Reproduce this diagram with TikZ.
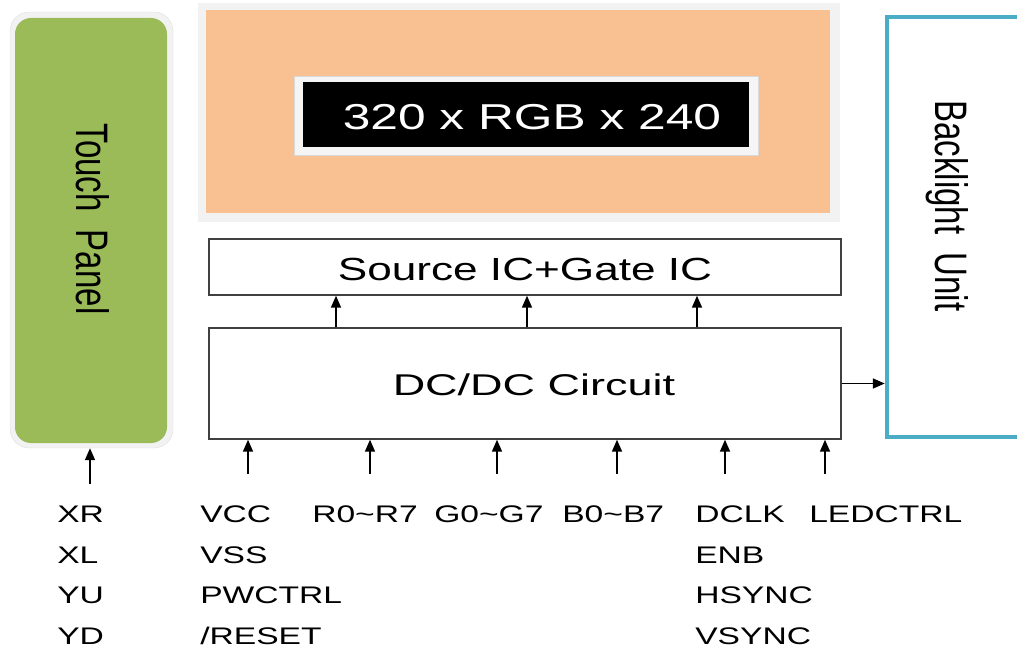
\documentclass[tikz,border=0pt]{standalone}
\usepackage{graphicx}
\usepackage{fontspec}
\setmainfont{Liberation Sans}
\usetikzlibrary{arrows.meta}
\definecolor{panelgreen}{RGB}{155,187,89}
\definecolor{lcdorange}{RGB}{249,193,145}
\definecolor{blteal}{RGB}{75,172,198}
\newcommand{\fsz}[1]{\fontsize{#1}{#1}\selectfont}
\newcommand{\tall}[1]{\scalebox{1}[1.38]{#1}}

\begin{document}
\begin{tikzpicture}[x=1pt, y=-1pt,
    box/.style={draw=black!75, line width=1.4pt, inner sep=0pt},
    wide/.style={xscale=1.38, inner sep=0pt},
    sig/.style={font=\fsz{24}, xscale=1.4, anchor=base west, inner sep=0pt},
    arr/.style={-{Triangle[length=12pt,width=10pt]}, line width=1.7pt}]
\useasboundingbox (0,0) rectangle (1017,652);

% touch panel
\node [fill=black!5, draw=black!12, rounded corners=19pt, minimum width=163, minimum height=436] (tpframe) at (91.5,230) {};
\node [fill=panelgreen, rounded corners=16pt, minimum width=152, minimum height=425] (touch) at (91,230.5) {};
\node [rotate=-90, inner sep=0pt, font=\fsz{33}] (touchtxt) at (93,219) {\tall{Touch\ \ Panel}};

% lcd area
\node [fill=black!5, minimum width=642, minimum height=219] (lcdframe) at (519,112.5) {};
\node [fill=lcdorange, minimum width=624, minimum height=203] (lcd) at (518,111.5) {};
\node [fill=black!4, draw=black!15, minimum width=464, minimum height=79] (resframe) at (526,115.5) {};
\node [fill=black, minimum width=446, minimum height=65] (res) at (526,114.5) {};
\node [wide, text=white, font=\fsz{36}] (restxt) at (532,117) {320 x RGB x 240};

% driver blocks
\node [box, minimum width=632, minimum height=56] (src) at (525,267) {};
\node [wide, font=\fsz{32}] (srctxt) at (525,269) {Source IC+Gate IC};
\node [box, minimum width=632, minimum height=111] (dc) at (525,383.5) {};
\node [xscale=1.5, inner sep=0pt, font=\fsz{30}] (dctxt) at (534,385) {DC/DC Circuit};

% backlight
\node [draw=blteal, line width=4.5pt, inner sep=0pt, minimum width=143, minimum height=420] (bl) at (958.5,227) {};
\node [rotate=-90, inner sep=0pt, font=\fsz{33}] (bltxt) at (947,206) {\tall{Backlight\ \ Unit}};

\foreach \x/\n in {336/a, 527/b, 697/c} {
  \coordinate (up\n) at (\x,0);
  \draw [arr] (dc.north -| up\n) -- (src.south -| up\n);
}
\draw [arr] (dc.east) -- (dc.east -| bl.west);

\foreach \x/\n in {248/vcc, 370/red, 497/green, 617/blue, 725/dclk, 825/led} {
  \coordinate (in\n) at (\x,474);
  \draw [arr] (in\n) -- (in\n |- dc.south);
}
\coordinate (inxr) at (90,484);
\draw [arr] (inxr) -- (inxr |- tpframe.south);

% signal names
\node [sig] (xr) at (57,522) {XR};
\node [sig] (xl) at (57,563) {XL};
\node [sig] (yu) at (57,603) {YU};
\node [sig] (yd) at (57,644) {YD};
\node [sig] (vcc) at (200,522) {VCC};
\node [sig] (vss) at (200,563) {VSS};
\node [sig] (pwctrl) at (200,603) {PWCTRL};
\node [sig] (reset) at (200,644) {/RESET};
\node [sig] (rbus) at (312,522) {R0\textasciitilde R7};
\node [sig] (gbus) at (434,522) {G0\textasciitilde G7};
\node [sig] (bbus) at (562,522) {B0\textasciitilde B7};
\node [sig] (dclk) at (695,522) {DCLK};
\node [sig] (enb) at (695,563) {ENB};
\node [sig] (hsync) at (695,603) {HSYNC};
\node [sig] (vsync) at (695,644) {VSYNC};
\node [sig] (ledctrl) at (809,522) {LEDCTRL};
\end{tikzpicture}
\end{document}
